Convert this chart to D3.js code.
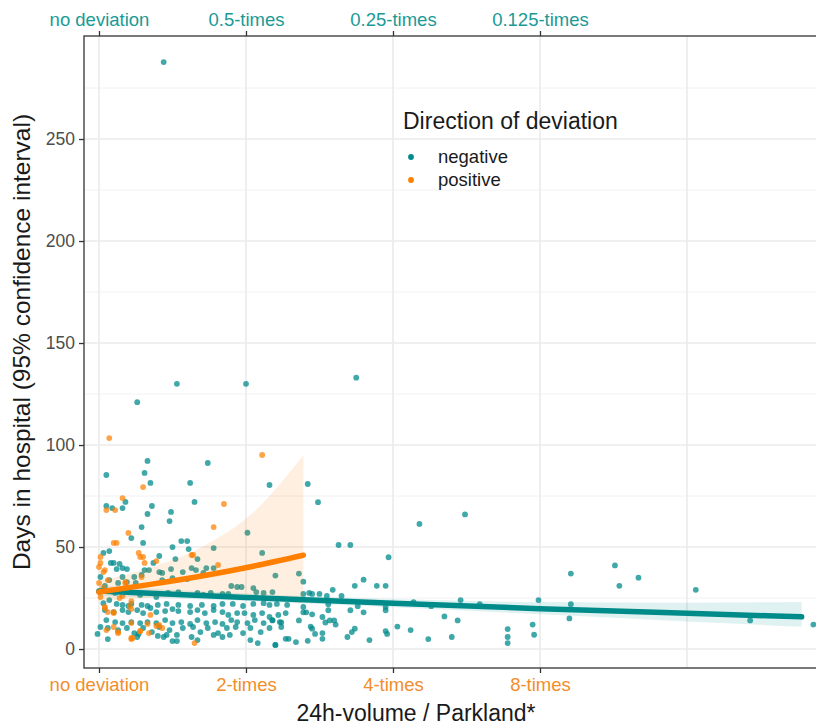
<!DOCTYPE html>
<html>
<head>
<meta charset="utf-8">
<script src="https://cdn.jsdelivr.net/npm/d3@7"></script>
<style>
  html, body { margin: 0; padding: 0; background: #fff; }
  svg { display: block; font-family: "Liberation Sans", Arial, sans-serif; }
</style>
</head>
<body>
<svg id="chart" width="816" height="727"></svg>
<script>
// x: log2 of the 24h volume relative to the Parkland formula; y: days in hospital
const bottomTickLabels = ["no deviation", "2-times", "4-times", "8-times"];
const topTickLabels = ["no deviation", "0.5-times", "0.25-times", "0.125-times"];
const xTicks = [0, 1, 2, 3];
const xGrid = [0, 1, 2, 3, 4];
const yTicks = [0, 50, 100, 150, 200, 250];
const yMinor = [25, 75, 125, 175, 225, 275];
const groups = ["negative", "positive"];

const negativePoints = [
  [0.44,287.7],[0.53,130],[1.0,130],[1.75,133],[0.26,121],[0.74,91.2],[0.33,92.2],[0.31,86.3],
  [0.05,85.3],[0.35,81.4],[0.62,81.4],[1.16,80.4],[1.42,80.9],[1.49,72],[0.65,72.1],[0.05,70.1],
  [0.09,69.1],[0.16,69.1],[0.18,72.1],[0.36,70.1],[0.33,66.2],[0.29,59.8],[0.48,62.7],[0.49,67.2],
  [1.63,51],[1.71,51],[1.97,45],[2.18,61.3],[2.49,66],[1.2,36],[1.36,37],[1.39,33],[1.39,27],
  [1.43,27.5],[1.45,27],[1.5,27],[1.55,26],[1.59,29],[1.65,26],[1.74,31],[1.8,34],[1.89,31],[1.95,31],
  [1.16,21.6],[1.18,14],[1.24,13],[1.2,2],[1.27,5],[1.29,5],[1.34,3.4],[1.42,4],[1.36,14],[1.39,20.6],
  [1.39,18],[1.41,18],[1.45,17],[1.44,11],[1.45,10],[1.47,7.4],[1.52,7.8],[1.52,5],[1.52,15.7],
  [1.54,13],[1.56,19],[1.57,14],[1.6,14],[1.61,12],[1.56,22],[1.71,19],[1.76,21],[1.8,18],[1.74,10],
  [1.72,8.3],[1.69,5.9],[1.84,4.4],[1.95,19],[1.95,8.8],[1.96,7.4],[2.03,11],[2.12,9.3],[2.14,23],
  [2.24,4.9],[2.35,16],[2.4,5.9],[2.44,14],[2.46,24],[2.59,22],[2.26,21],[1.95,20.6],
  [3.21,37],[3.51,41],[3.54,31],[3.67,35],[4.06,29],[4.43,14],[4.86,12],[2.99,24],[3.21,22],[3.2,15],
  [2.78,9.8],[2.78,5.9],[2.78,2.9],[2.95,12],[2.96,7],
  [1.01,57],[0.22,54.4],[0.3,52],[0.03,47.1],[0.07,48],[0.08,42.2],[0.1,42.2],[0.14,41.7],[0.12,39.2],
  [0.16,39.7],[0.19,39.2],[0.5,50],[0.56,52.9],[0.6,52.9],[0.61,49],[0.67,44.1],[0.78,49.5],[0.78,39.7],
  [0.73,39.7],[0.71,37.3],[0.63,39.7],[0.52,44.1],[0.41,45.6],[0.37,42.2],[0.34,38.7],[0.41,37.7],
  [0.43,37.3],[0.49,39.2],[0.5,34.8],[0.57,37.7],[0.6,34.3],[0.66,38.7],[0.43,33.8],[0.31,38.7],
  [0.29,36.3],[0.24,35.3],[0.25,32.4],[0.19,32.8],[0.16,35.3],[0.13,32.4],[0.07,33.8],[0.01,35.3],
  [0.04,30.9],[1.11,47.1],[0.9,30.9],[0.94,30.4],[0.97,30.4],[1.05,29.9],[1.07,27.9],[1.12,27.5],
  [1.18,27.9],[0.84,27],[0.76,27.5],[0.71,26.5],[0.67,27.5],[0.88,27],[0.54,27.9],[0.47,27.5],
  [0.39,25.5],[0.28,26.5],[0.11,27.5],[0.07,24],[0.03,22.5],[0.12,22.1],[0.16,21.6],[0.2,21.1],
  [0.22,22.1],[0.29,21.6],[0.33,21.1],[0.4,21.6],[0.46,22.1],[0.54,21.6],[0.62,21.1],[0.7,21.6],
  [0.78,21.1],[0.84,22.1],[0.91,22.1],[0.98,21.1],[1.05,22.1],[1.12,22.5],[1.21,22.1],[1.28,21.6],
  [0.04,19.1],[0.1,18.1],[0.16,19.1],[0.2,18.1],[0.26,19.1],[0.3,17.6],[0.35,20.1],[0.39,18.1],
  [0.45,18.6],[0.5,19.6],[0.54,18.6],[0.62,18.1],[0.67,19.1],[0.72,17.6],[0.78,19.1],[0.84,18.1],
  [0.88,16.7],[0.94,17.6],[0.99,17.6],[1.05,16.7],[1.11,17.6],[1.16,15.7],[1.22,16.7],[1.27,17.6],
  [0.05,14.2],[0.11,13.2],[0.16,12.7],[0.22,13.2],[0.28,12.7],[0.33,13.2],[0.39,12.7],[0.45,14.2],
  [0.5,12.7],[0.56,13.2],[0.62,12.3],[0.67,14.2],[0.73,12.7],[0.79,13.2],[0.84,12.3],[0.9,14.2],
  [0.94,13.2],[1.01,12.7],[1.06,14.2],[1.12,12.7],[1.18,14.2],[1.23,13.2],
  [0.01,10.8],[0.06,10.3],[0.13,9.3],[0.19,10.3],[0.24,7.8],[0.3,10.3],[0.36,8.3],[0.41,10.8],
  [0.48,9.3],[0.53,6.9],[0.57,10.3],[0.64,10.8],[0.69,8.3],[0.74,10.3],[0.81,7.8],[0.87,10.3],
  [0.93,10.8],[0.98,7.8],[1.03,10.3],[1.1,8.3],[1.16,10.3],[1.24,10.8],
  [-0.01,7.4],[0.26,5.9],[0.4,6.4],[0.46,6.9],[0.5,3.9],[0.53,3.9],[0.63,5.9],[0.67,4.4],[0.78,6.9],
  [0.84,5.9],[0.89,6.9],[1.03,4.4],[1.08,2.9],[1.2,2],[0.06,4.9],[0.27,7.4],[0.44,5.9]
];

const positivePoints = [
  [0.07,103.4],[0.16,74],[0.30,79.4],[0.05,68.1],[0.11,68.1],[0.85,71.1],[0.78,59.8],[1.11,95.1],
  [0.2,56.9],[0.1,52],[0.27,47.1],[0.3,45.1],[0.28,45.1],[0.31,42.2],[0.39,43.1],[0.01,45.1],
  [0.01,42.2],[0.04,38.7],[0.64,46.1],[0.06,33.8],[0.18,32.8],[0.29,35.3],[0.14,25],[0.04,20.1],
  [0.1,17.6],[0.21,21.1],[0.22,12.7],[0.35,16.7],[0.41,11.8],[0.05,9.3],[0.13,7.8],[0.23,5.4],
  [0.34,7.8],[0.28,8.8],[0.65,2.9],[0.22,4.9],[0.0,40.2],[0.03,37.7],[0.0,32.4],[0.01,25.5],
  [0.04,20.6],[0.06,18.1],[0.1,18.1],[0.12,52],[0.16,26],[0.22,23.5],[0.22,19.6],[0.1,10.8],
  [0.13,8.3],[0.22,5.4],[0.33,12.3],[0.28,8.8],[0.39,11.3],[0.43,10.3],[0.81,41.2],[0.63,46.1],
  [0.0,28],[0.03,30],[0.18,32.3]
];

// fitted curve and 95% band for each direction, read at a few x positions
const negFitX = [0, 1, 2, 3, 4, 4.78];
const negFit = [28.5, 25.3, 22.4, 19.8, 17.5, 15.8];
const negLower = [26, 23.5, 20.5, 17, 13.5, 10.9];
const negUpper = [31.2, 27.2, 24.5, 23, 22.7, 23.1];
const posFitX = [0, 0.35, 0.7, 1.05, 1.39];
const posFit = [28, 31.7, 35.8, 40.6, 46];
const posLower = [23.5, 25.1, 25.6, 24.6, 22.3];
const posUpper = [33.4, 40, 50, 67, 95];

const colTeal = "#008B8B";
const colOrange = "#FF7F00";

const svg = d3.select("#chart");
const panel = { left: 84, right: 830, top: 36, bottom: 668 };

const x = d3.scaleLinear().domain([-0.102, 4.973]).range([panel.left, panel.right]);
const y = d3.scaleLinear().domain([-9.3, 300.5]).range([panel.bottom, panel.top]);

// grid
const grid = svg.append("g");
grid.selectAll("line.ymin").data(yMinor).join("line")
  .attr("x1", panel.left).attr("x2", panel.right)
  .attr("y1", d => y(d)).attr("y2", d => y(d))
  .attr("stroke", "#f2f2f2").attr("stroke-width", 1);
grid.selectAll("line.ymaj").data(yTicks).join("line")
  .attr("x1", panel.left).attr("x2", panel.right)
  .attr("y1", d => y(d)).attr("y2", d => y(d))
  .attr("stroke", "#ebebeb").attr("stroke-width", 1.6);
grid.selectAll("line.xmaj").data(xGrid).join("line")
  .attr("y1", panel.top).attr("y2", panel.bottom)
  .attr("x1", d => x(d)).attr("x2", d => x(d))
  .attr("stroke", "#ebebeb").attr("stroke-width", 1.6);

// points
const pts = svg.append("g");
pts.selectAll("circle.neg").data(negativePoints).join("circle")
  .attr("cx", d => x(d[0])).attr("cy", d => y(d[1])).attr("r", 2.9)
  .attr("fill", colTeal).attr("fill-opacity", 0.75);
pts.selectAll("circle.pos").data(positivePoints).join("circle")
  .attr("cx", d => x(d[0])).attr("cy", d => y(d[1])).attr("r", 2.9)
  .attr("fill", colOrange).attr("fill-opacity", 0.72);

// confidence bands
const band = (xs, lo, hi) => d3.area()
  .x((d, i) => x(xs[i])).y0((d, i) => y(lo[i])).y1((d, i) => y(hi[i]))
  .curve(d3.curveMonotoneX)(xs);
svg.append("path").attr("d", band(negFitX, negLower, negUpper))
  .attr("fill", colTeal).attr("fill-opacity", 0.12);
svg.append("path").attr("d", band(posFitX, posLower, posUpper))
  .attr("fill", colOrange).attr("fill-opacity", 0.12);

// fitted lines
const fitLine = (xs, ys) => d3.line()
  .x((d, i) => x(xs[i])).y((d, i) => y(ys[i]))
  .curve(d3.curveMonotoneX)(xs);
svg.append("path").attr("d", fitLine(negFitX, negFit))
  .attr("fill", "none").attr("stroke", colTeal).attr("stroke-width", 5.5).attr("stroke-linecap", "round");
svg.append("path").attr("d", fitLine(posFitX, posFit))
  .attr("fill", "none").attr("stroke", colOrange).attr("stroke-width", 5.5).attr("stroke-linecap", "round");

// panel border
svg.append("rect").attr("x", panel.left).attr("y", panel.top)
  .attr("width", panel.right - panel.left).attr("height", panel.bottom - panel.top)
  .attr("fill", "none").attr("stroke", "#333333").attr("stroke-width", 1.3);

// axes
const styleAxis = (g, color, size) => {
  g.select(".domain").remove();
  g.selectAll(".tick line").attr("stroke", "#333333").attr("stroke-width", 1.3);
  g.selectAll(".tick text").attr("fill", color).attr("font-size", size)
    .attr("font-family", "'Liberation Sans', Arial, sans-serif");
};
svg.append("g").attr("transform", `translate(0,${panel.bottom})`)
  .call(d3.axisBottom(x).tickValues(xTicks).tickFormat((d, i) => bottomTickLabels[i]).tickSize(5).tickPadding(5))
  .call(g => styleAxis(g, "#F28E2B", 18.5));
svg.append("g").attr("transform", `translate(0,${panel.top})`)
  .call(d3.axisTop(x).tickValues(xTicks).tickFormat((d, i) => topTickLabels[i]).tickSize(5).tickPadding(5))
  .call(g => styleAxis(g, "#1A9A96", 18.5));
svg.append("g").attr("transform", `translate(${panel.left},0)`)
  .call(d3.axisLeft(y).tickValues(yTicks).tickFormat(d3.format("d")).tickSize(5).tickPadding(4))
  .call(g => styleAxis(g, "#4D4D4D", 17.5));

// axis titles
svg.append("text").attr("x", 416).attr("y", 721).attr("text-anchor", "middle")
  .attr("font-size", 23).attr("fill", "#1a1a1a").text("24h-volume / Parkland*");
svg.append("text").attr("transform", "translate(30,342) rotate(-90)")
  .attr("text-anchor", "middle").attr("font-size", 24.5).attr("fill", "#1a1a1a")
  .text("Days in hospital (95% confidence interval)");

// legend
const legend = svg.append("g").attr("transform", "translate(403,0)");
legend.append("text").attr("x", 0).attr("y", 129).attr("font-size", 23).attr("fill", "#1a1a1a")
  .text("Direction of deviation");
legend.selectAll("circle").data(groups).join("circle")
  .attr("cx", 8).attr("cy", (d, i) => 157 + i * 23).attr("r", 2.9)
  .attr("fill", (d, i) => i ? colOrange : colTeal);
legend.selectAll("text.item").data(groups).join("text").attr("class", "item")
  .attr("x", 35).attr("y", (d, i) => 163 + i * 23).attr("font-size", 18.5).attr("fill", "#1a1a1a")
  .text(d => d);
</script>
</body>
</html>
